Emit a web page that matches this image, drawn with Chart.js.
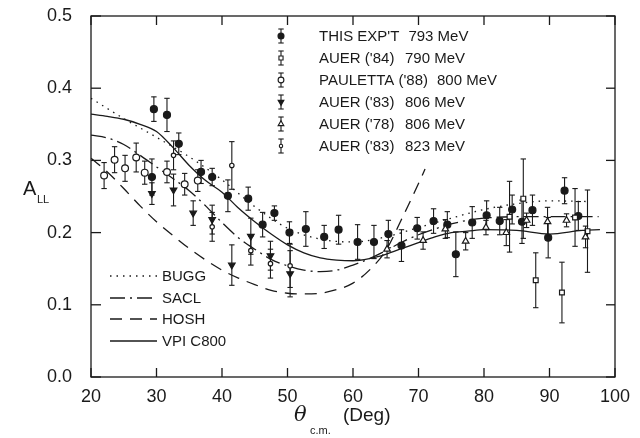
<!DOCTYPE html>
<html>
<head>
<meta charset="utf-8">
<script src="https://cdn.jsdelivr.net/npm/chart.js@4.4.1/dist/chart.umd.min.js"></script>
<style>
  html, body { margin: 0; padding: 0; background: #fff; }
  canvas { display: block; }
</style>
</head>
<body>
<canvas id="chart" width="640" height="438"></canvas>
<script>
// measured points: [angle, A_LL, error]
const thisExp = [
  [29.6, 0.371, 0.017], [31.6, 0.363, 0.023], [33.4, 0.323, 0.015], [29.3, 0.277, 0.025],
  [36.8, 0.284, 0.016], [38.5, 0.277, 0.012], [40.9, 0.251, 0.022], [44.0, 0.247, 0.016],
  [46.2, 0.211, 0.017], [48.0, 0.227, 0.010], [50.3, 0.200, 0.015], [52.8, 0.205, 0.024],
  [55.6, 0.194, 0.016], [57.8, 0.204, 0.020], [60.7, 0.187, 0.024], [63.2, 0.187, 0.023],
  [65.4, 0.198, 0.019], [67.4, 0.182, 0.022], [69.8, 0.206, 0.015], [72.3, 0.216, 0.017],
  [74.4, 0.211, 0.018], [75.7, 0.170, 0.031], [78.2, 0.214, 0.022], [80.4, 0.224, 0.020],
  [82.4, 0.216, 0.019], [84.3, 0.232, 0.020], [85.8, 0.215, 0.030], [87.4, 0.231, 0.021],
  [89.8, 0.193, 0.028], [92.3, 0.258, 0.018], [94.4, 0.223, 0.020]
];
const auer84 = [
  [83.9, 0.222, 0.049], [86.0, 0.247, 0.055], [87.9, 0.134, 0.038],
  [91.9, 0.117, 0.042], [93.9, 0.221, 0.040], [95.8, 0.202, 0.057]
];
const pauletta88 = [
  [22.0, 0.279, 0.018], [23.6, 0.301, 0.018], [25.2, 0.289, 0.018], [26.9, 0.304, 0.020],
  [28.2, 0.283, 0.016], [31.6, 0.284, 0.015], [34.3, 0.267, 0.015], [36.3, 0.272, 0.015]
];
const auer83a = [
  [29.3, 0.254, 0.015], [32.6, 0.259, 0.022], [35.6, 0.227, 0.017], [38.5, 0.218, 0.020],
  [41.5, 0.155, 0.028], [44.4, 0.195, 0.025], [47.4, 0.168, 0.020], [50.4, 0.143, 0.032]
];
const auer78 = [
  [65.2, 0.177, 0.012], [70.7, 0.189, 0.012], [74.1, 0.205, 0.013], [77.2, 0.188, 0.012],
  [80.3, 0.207, 0.010], [83.4, 0.200, 0.018], [86.5, 0.217, 0.010], [89.7, 0.215, 0.020],
  [92.6, 0.217, 0.009], [95.5, 0.194, 0.015]
];
const auer83b = [
  [32.6, 0.307, 0.020], [38.5, 0.208, 0.020], [41.5, 0.293, 0.033],
  [44.4, 0.175, 0.020], [47.4, 0.157, 0.020], [50.4, 0.154, 0.030]
];

// theory curves: [angle, A_LL]
const bugg = [
  [20, 0.386], [25, 0.358], [30, 0.332], [35, 0.305], [40, 0.273], [45, 0.236], [50, 0.206],
  [55, 0.191], [60, 0.187], [65, 0.194], [70, 0.207], [75, 0.220], [80, 0.232], [85, 0.240],
  [90, 0.244], [96, 0.243]
];
const sacl = [
  [20, 0.335], [22.5, 0.331], [25, 0.322], [27.5, 0.307], [30, 0.291], [32.5, 0.275], [35, 0.258],
  [37.5, 0.237], [40, 0.214], [42.5, 0.193], [45, 0.177], [47.5, 0.163], [50, 0.154], [52.5, 0.148],
  [55, 0.146], [57.5, 0.148], [60, 0.155], [62.5, 0.164], [65, 0.175], [67.5, 0.187], [70, 0.197],
  [72.5, 0.205], [75, 0.212], [77.5, 0.217], [80, 0.220], [85, 0.222], [90, 0.222], [97.5, 0.222]
];
const hosh = [
  [20, 0.303], [22.5, 0.284], [25, 0.261], [27.5, 0.237], [30, 0.215], [32.5, 0.196], [35, 0.178],
  [37.5, 0.162], [40, 0.148], [42.5, 0.137], [45, 0.128], [47.5, 0.120], [50, 0.116], [52.5, 0.115],
  [55, 0.116], [57.5, 0.121], [60, 0.130], [62.5, 0.148], [65, 0.175], [67.5, 0.220], [70, 0.268],
  [71, 0.288]
];
const vpi = [
  [20, 0.364], [22.5, 0.361], [25, 0.357], [27.5, 0.350], [30, 0.340], [32.5, 0.318], [35, 0.293],
  [37.5, 0.272], [40, 0.256], [42.5, 0.234], [45, 0.215], [47.5, 0.198], [50, 0.183], [52.5, 0.172],
  [55, 0.165], [57.5, 0.162], [60, 0.161], [62.5, 0.164], [65, 0.170], [67.5, 0.178], [70, 0.186],
  [72.5, 0.194], [75, 0.200], [77.5, 0.202], [80, 0.204], [85, 0.203], [90, 0.198], [95, 0.203],
  [97.7, 0.204]
];

const xTicks = [20, 30, 40, 50, 60, 70, 80, 90, 100];
const yTicks = [0.0, 0.1, 0.2, 0.3, 0.4, 0.5];

const dataNames = ["THIS EXP'T", "AUER ('84)", "PAULETTA ('88)", "AUER ('83)", "AUER ('78)", "AUER ('83)"];
const dataEnergies = ['793 MeV', '790 MeV', '800 MeV', '806 MeV', '806 MeV', '823 MeV'];
const curveNames = ['BUGG', 'SACL', 'HOSH', 'VPI C800'];

const INK = '#1a1a1a';
const FONT = '"Liberation Sans", Arial, sans-serif';

const toPts = (arr) => arr.map(([x, y, e]) => ({ x, y, e }));

const markers = [
  { pointStyle: 'circle', radius: 3.5, fill: INK },
  { pointStyle: 'rect', radius: 3.4, fill: '#fff' },
  { pointStyle: 'circle', radius: 3.4, fill: '#fff' },
  { pointStyle: 'triangle', radius: 3.8, fill: INK, rotation: 180 },
  { pointStyle: 'triangle', radius: 3.8, fill: '#fff' },
  { pointStyle: 'circle', radius: 2.2, fill: '#fff' },
];
const dashes = [[1.5, 5], [15, 5, 2, 5], [12, 8], []];

const pointSets = [thisExp, auer84, pauletta88, auer83a, auer78, auer83b];
const curveSets = [bugg, sacl, hosh, vpi];

const datasets = [];
curveSets.forEach((c, i) => {
  datasets.push({
    type: 'line',
    label: curveNames[i],
    data: toPts(c),
    borderColor: INK,
    borderWidth: 1.3,
    borderDash: dashes[i],
    pointRadius: 0,
    cubicInterpolationMode: 'monotone',
    fill: false,
    order: 10,
  });
});
pointSets.forEach((p, i) => {
  const m = markers[i];
  datasets.push({
    type: 'scatter',
    label: dataNames[i],
    data: toPts(p),
    pointStyle: m.pointStyle,
    pointRadius: m.radius,
    pointRotation: m.rotation || 0,
    backgroundColor: m.fill,
    borderColor: INK,
    borderWidth: 1.2,
    errorBars: true,
    order: 5 - i,
  });
});

function seg(ctx, x1, y1, x2, y2) {
  ctx.beginPath();
  ctx.moveTo(x1, y1);
  ctx.lineTo(x2, y2);
  ctx.stroke();
}

const errorBarPlugin = {
  id: 'errorBars',
  beforeDatasetDraw(chart, args) {
    const ds = chart.data.datasets[args.index];
    if (!ds.errorBars) return;
    const { ctx, scales: { x, y } } = chart;
    ctx.save();
    ctx.strokeStyle = INK;
    ctx.lineWidth = 1.1;
    ds.data.forEach((p) => {
      const px = x.getPixelForValue(p.x);
      const top = y.getPixelForValue(p.y + p.e);
      const bot = y.getPixelForValue(p.y - p.e);
      seg(ctx, px, top, px, bot);
      seg(ctx, px - 2.7, top, px + 2.7, top);
      seg(ctx, px - 2.7, bot, px + 2.7, bot);
    });
    ctx.restore();
  },
};

const framePlugin = {
  id: 'frame',
  beforeDraw(chart) {
    const { ctx } = chart;
    ctx.save();
    ctx.fillStyle = '#fff';
    ctx.fillRect(0, 0, chart.width, chart.height);
    ctx.restore();
  },
  afterDraw(chart) {
    const { ctx, chartArea: a, scales: { x, y } } = chart;
    ctx.save();
    ctx.strokeStyle = INK;
    ctx.lineWidth = 1.3;
    ctx.strokeRect(a.left, a.top, a.right - a.left, a.bottom - a.top);
    xTicks.forEach((v) => {
      const px = x.getPixelForValue(v);
      seg(ctx, px, a.bottom, px, a.bottom - 9);
      seg(ctx, px, a.top, px, a.top + 9);
    });
    yTicks.forEach((v) => {
      const py = y.getPixelForValue(v);
      seg(ctx, a.left, py, a.left + 10, py);
      seg(ctx, a.right, py, a.right - 9, py);
    });

    // axis titles
    ctx.fillStyle = INK;
    ctx.textBaseline = 'alphabetic';
    ctx.textAlign = 'left';
    ctx.font = 'italic 21px "DejaVu Serif", serif';
    ctx.fillText('θ', 294, 421);
    ctx.font = '11px ' + FONT;
    ctx.fillText('c.m.', 310, 434);
    ctx.font = '19px ' + FONT;
    ctx.fillText('(Deg)', 343, 421);
    ctx.font = '20px ' + FONT;
    ctx.fillText('A', 23, 195);
    ctx.font = '11px ' + FONT;
    ctx.fillText('LL', 37, 203);

    // data legend
    ctx.font = '15px ' + FONT;
    ctx.lineWidth = 1.1;
    const rows = [36, 58, 80, 102, 124, 146];
    markers.forEach((m, i) => {
      const cy = rows[i];
      const sx = 281;
      ctx.strokeStyle = INK;
      seg(ctx, sx, cy - 7, sx, cy + 7);
      seg(ctx, sx - 2.7, cy - 7, sx + 2.7, cy - 7);
      seg(ctx, sx - 2.7, cy + 7, sx + 2.7, cy + 7);
      ctx.save();
      ctx.fillStyle = m.fill;
      ctx.strokeStyle = INK;
      Chart.helpers.drawPoint(ctx, {
        pointStyle: m.pointStyle,
        radius: m.radius - 0.5,
        rotation: m.rotation || 0,
        borderWidth: 1.1,
      }, sx, cy);
      ctx.restore();
      ctx.fillStyle = INK;
      ctx.textBaseline = 'middle';
      ctx.fillText(dataNames[i], 319, cy + 1);
      const w = ctx.measureText(dataNames[i]).width;
      ctx.fillText(dataEnergies[i], Math.max(405, 319 + w + 9), cy + 1);
    });

    // curve legend
    const crow = [276, 298, 319, 341];
    ctx.lineWidth = 1.3;
    curveNames.forEach((n, i) => {
      ctx.setLineDash(dashes[i]);
      seg(ctx, 110, crow[i], 157, crow[i]);
      ctx.setLineDash([]);
      ctx.fillText(n, 162, crow[i] + 1);
    });
    ctx.restore();
  },
};

new Chart(document.getElementById('chart').getContext('2d'), {
  data: { datasets },
  options: {
    responsive: false,
    animation: false,
    devicePixelRatio: 1,
    layout: { padding: { left: 0, top: 16, right: 25, bottom: 0 } },
    plugins: {
      legend: { display: false },
      tooltip: { enabled: false },
    },
    scales: {
      x: {
        type: 'linear',
        min: 20,
        max: 100,
        grid: { display: false, drawTicks: false },
        border: { display: false },
        afterFit: (s) => { s.height = 61; s.paddingLeft = 0; s.paddingRight = 0; },
        afterBuildTicks: (s) => { s.ticks = xTicks.map((v) => ({ value: v })); },
        ticks: {
          color: INK,
          padding: 9,
          font: { family: FONT, size: 18 },
          callback: (v) => String(v),
        },
      },
      y: {
        type: 'linear',
        min: 0,
        max: 0.5,
        grid: { display: false, drawTicks: false },
        border: { display: false },
        afterFit: (s) => { s.width = 91; s.paddingTop = 0; s.paddingBottom = 0; },
        afterBuildTicks: (s) => { s.ticks = yTicks.map((v) => ({ value: v })); },
        ticks: {
          color: INK,
          padding: 19,
          font: { family: FONT, size: 18 },
          callback: (v) => v.toFixed(1),
        },
      },
    },
  },
  plugins: [errorBarPlugin, framePlugin],
});
</script>
</body>
</html>
